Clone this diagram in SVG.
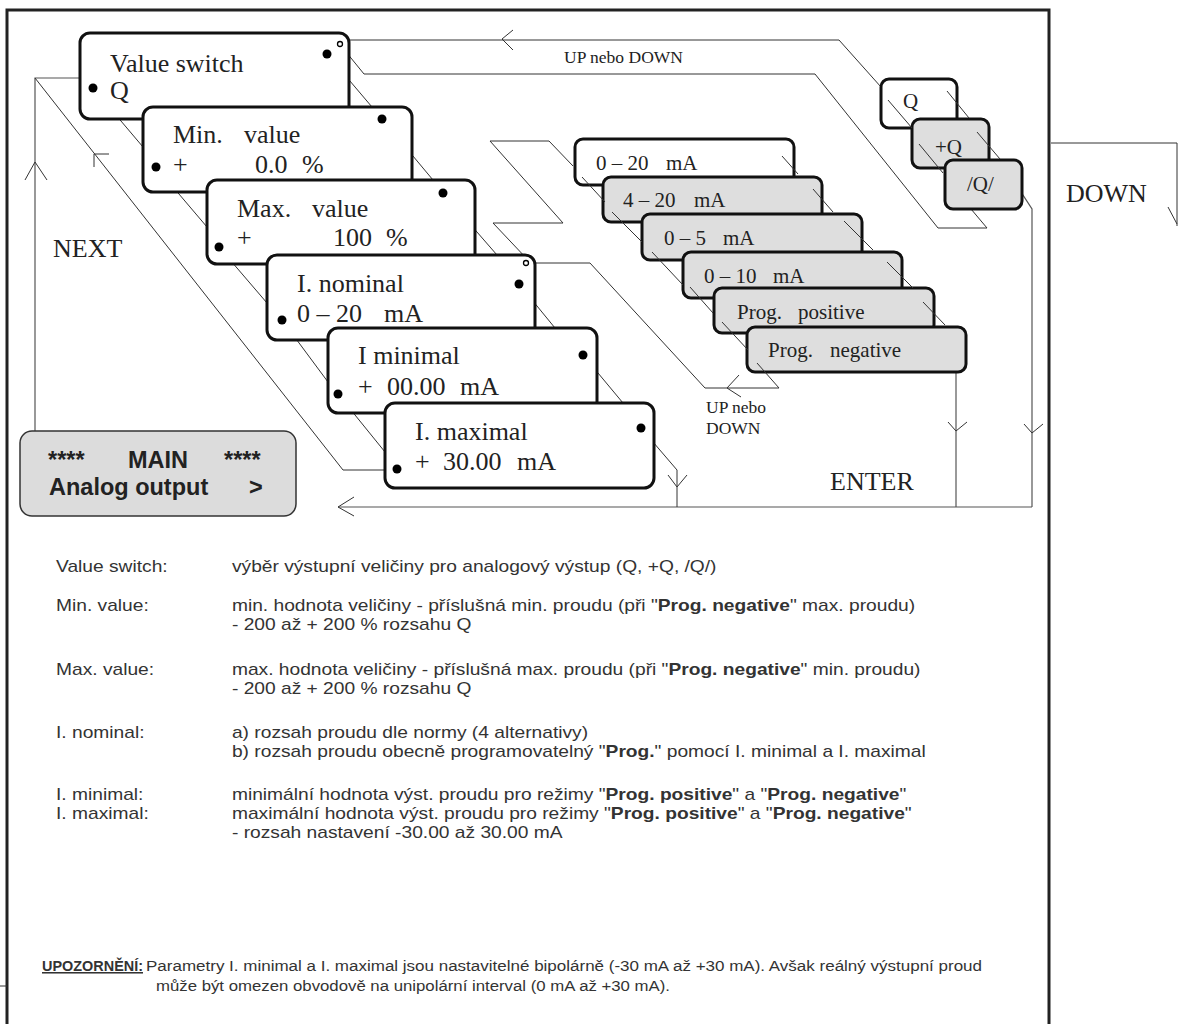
<svg xmlns="http://www.w3.org/2000/svg" width="1178" height="1024" viewBox="0 0 1178 1024">
<style>
.frame{fill:none;stroke:#222;stroke-width:3}
.box{fill:#fff;stroke:#111;stroke-width:3}
.gbox{fill:#dedede;stroke:#111;stroke-width:3}
.mainbox{fill:#dcdcdc;stroke:#333;stroke-width:1.5}
.ln{fill:none;stroke:#333;stroke-width:1}
.gl{fill:none;stroke:#555;stroke-width:1.2}
.dot{fill:#000}
.ring{fill:#fff;stroke:#000;stroke-width:1.3}
.s26{font-family:"Liberation Serif","Times New Roman",serif;font-size:26px;fill:#222}
.s21{font-family:"Liberation Serif","Times New Roman",serif;font-size:21px;fill:#222}
.s17{font-family:"Liberation Serif","Times New Roman",serif;font-size:17.5px;fill:#222}
.mb{font-family:"Liberation Sans",Arial,sans-serif;font-size:23.5px;font-weight:bold;fill:#222}
.d{font-family:"Liberation Sans",Arial,sans-serif;font-size:16px;fill:#333}
.n{font-family:"Liberation Sans",Arial,sans-serif;font-size:15.5px;fill:#333}
</style>
<rect width="1178" height="1024" fill="#fff"/>
<g id="frame">
<polyline class="frame" points="7,1024 7,10 1049,10 1049,1024"/>
<line class="ln" x1="0" y1="986" x2="7" y2="986"/>
</g>
<g id="connectors">
<polyline class="ln" points="349,40 839,40 881,87"/>
<polyline class="ln" points="513,30 502,39 513,50"/>
<polyline class="ln" points="342,47 364,74 815,74 938,228 987,228 955,190"/>
<polyline class="gl" points="80,78 35,78 35,431"/>
<polyline class="ln" points="25,180 35,162 47,180"/>
<polyline class="ln" points="35,78 343,470 397,470"/>
<polyline class="ln" points="109,154 94,154 94,167"/>
<polyline class="ln" points="528,260 493,223 563,223 490,141 549,141 573,166"/>
<polyline class="ln" points="779,388 705,388 590,263 535,263"/>
<polyline class="ln" points="739,375 727,388 741,397"/>
<polyline class="gl" points="956,347 956,507"/>
<polyline class="ln" points="948,422 956,431 967,422"/>
<polyline class="gl" points="1010,175 1032,209 1032,507"/>
<polyline class="ln" points="1024,424 1032,433 1043,424"/>
<polyline class="gl" points="338,507 1032,507"/>
<polyline class="ln" points="354,497 338,507 354,516"/>
<polyline class="ln" points="641,428 677,470 677,507"/>
<polyline class="ln" points="668,475 677,487 687,475"/>
<polyline class="ln" points="1051,143 1177,143 1177,226"/>
<line class="ln" x1="1168" y1="207" x2="1177" y2="224"/>
<line class="ln" x1="93" y1="88" x2="143" y2="147"/>
<line class="ln" x1="327" y1="54" x2="372" y2="107"/>
<line class="ln" x1="156" y1="167" x2="207" y2="227"/>
<line class="ln" x1="382" y1="119" x2="433" y2="180"/>
<line class="ln" x1="219" y1="247" x2="267" y2="303"/>
<line class="ln" x1="443" y1="193" x2="497" y2="255"/>
<line class="ln" x1="282" y1="320" x2="328" y2="382"/>
<line class="ln" x1="519" y1="284" x2="555" y2="328"/>
<line class="ln" x1="338" y1="394" x2="385" y2="452"/>
<line class="ln" x1="583" y1="355" x2="623" y2="403"/>
</g>
<g id="labels">
<text class="s17" x="564" y="63">UP nebo DOWN</text>
<text class="s26" x="53" y="257">NEXT</text>
<text class="s26" x="830" y="490">ENTER</text>
<text class="s26" x="1066" y="202">DOWN</text>
<text class="s17" x="706" y="413">UP nebo</text>
<text class="s17" x="706" y="434">DOWN</text>
</g>
<g id="node-value-switch">
<rect class="box" x="80" y="33" width="269" height="86" rx="10"/>
<text class="s26" x="110" y="72">Value switch</text>
<text class="s26" x="110" y="99">Q</text>
<circle class="dot" cx="93" cy="88" r="4.5"/>
<circle class="dot" cx="327" cy="54" r="4.5"/>
<circle class="ring" cx="340" cy="44" r="2.5"/>
</g>
<g id="node-min-value">
<rect class="box" x="143" y="107" width="269" height="85" rx="10"/>
<text class="s26" x="173" y="143">Min.</text>
<text class="s26" x="244" y="143">value</text>
<text class="s26" x="173" y="173">+</text>
<text class="s26" x="255" y="173">0.0</text>
<text class="s26" x="302" y="173">%</text>
<circle class="dot" cx="156" cy="167" r="4.5"/>
<circle class="dot" cx="382" cy="119" r="4.5"/>
</g>
<g id="node-max-value">
<rect class="box" x="207" y="180" width="268" height="84" rx="10"/>
<text class="s26" x="237" y="217">Max.</text>
<text class="s26" x="312" y="217">value</text>
<text class="s26" x="237" y="246">+</text>
<text class="s26" x="333" y="246">100</text>
<text class="s26" x="386" y="246">%</text>
<circle class="dot" cx="219" cy="247" r="4.5"/>
<circle class="dot" cx="443" cy="193" r="4.5"/>
</g>
<g id="node-i-nominal">
<rect class="box" x="267" y="255" width="268" height="85" rx="10"/>
<text class="s26" x="297" y="292">I. nominal</text>
<text class="s26" x="297" y="322">0 – 20</text>
<text class="s26" x="384" y="322">mA</text>
<circle class="dot" cx="282" cy="320" r="4.5"/>
<circle class="dot" cx="519" cy="284" r="4.5"/>
<circle class="ring" cx="526" cy="263" r="2.5"/>
</g>
<g id="node-i-minimal">
<rect class="box" x="328" y="328" width="269" height="85" rx="10"/>
<text class="s26" x="358" y="364">I minimal</text>
<text class="s26" x="358" y="395">+</text>
<text class="s26" x="387" y="395">00.00</text>
<text class="s26" x="460" y="395">mA</text>
<circle class="dot" cx="338" cy="394" r="4.5"/>
<circle class="dot" cx="583" cy="355" r="4.5"/>
</g>
<g id="node-i-maximal">
<rect class="box" x="385" y="403" width="269" height="85" rx="10"/>
<text class="s26" x="415" y="440">I. maximal</text>
<text class="s26" x="415" y="470">+</text>
<text class="s26" x="443" y="470">30.00</text>
<text class="s26" x="517" y="470">mA</text>
<circle class="dot" cx="397" cy="469" r="4.5"/>
<circle class="dot" cx="641" cy="428" r="4.5"/>
</g>
<g id="node-main">
<rect class="mainbox" x="20" y="431" width="276" height="85" rx="12"/>
<text class="mb" x="48" y="468">****</text>
<text class="mb" x="128" y="468">MAIN</text>
<text class="mb" x="224" y="468">****</text>
<text class="mb" x="49" y="495">Analog output</text>
<text class="mb" x="249" y="495">&gt;</text>
</g>
<g id="node-0-20">
<rect class="box" x="575" y="139" width="219" height="46" rx="8"/>
<text class="s21" x="596" y="170">0 – 20</text>
<text class="s21" x="666" y="170">mA</text>
</g>
<g id="node-4-20">
<rect class="gbox" x="603" y="177" width="219" height="45" rx="8"/>
<text class="s21" x="623" y="207">4 – 20</text>
<text class="s21" x="694" y="207">mA</text>
</g>
<g id="node-0-5">
<rect class="gbox" x="642" y="214" width="220" height="46" rx="8"/>
<text class="s21" x="664" y="245">0 – 5</text>
<text class="s21" x="723" y="245">mA</text>
</g>
<g id="node-0-10">
<rect class="gbox" x="683" y="252" width="219" height="46" rx="8"/>
<text class="s21" x="704" y="283">0 – 10</text>
<text class="s21" x="773" y="283">mA</text>
</g>
<g id="node-prog-positive">
<rect class="gbox" x="714" y="288" width="220" height="45" rx="8"/>
<text class="s21" x="737" y="319">Prog.</text>
<text class="s21" x="798" y="319">positive</text>
</g>
<g id="node-prog-negative">
<rect class="gbox" x="747" y="327" width="219" height="45" rx="8"/>
<text class="s21" x="768" y="357">Prog.</text>
<text class="s21" x="830" y="357">negative</text>
</g>
<g id="node-q">
<rect class="box" x="881" y="79" width="76" height="49" rx="8"/>
<text class="s21" x="903" y="108">Q</text>
</g>
<g id="node-plus-q">
<rect class="gbox" x="912" y="119" width="77" height="49" rx="8"/>
<text class="s21" x="935" y="154">+Q</text>
</g>
<g id="node-abs-q">
<rect class="gbox" x="945" y="160" width="77" height="49" rx="8"/>
<text class="s21" x="967" y="191">/Q/</text>
</g>
<g id="list-lines">
<line class="ln" x1="582" y1="177" x2="605" y2="202"/>
<line class="ln" x1="782" y1="156" x2="798" y2="174"/>
<line class="ln" x1="612" y1="212" x2="642" y2="242"/>
<line class="ln" x1="813" y1="189" x2="833" y2="212"/>
<line class="ln" x1="652" y1="252" x2="683" y2="285"/>
<line class="ln" x1="844" y1="221" x2="873" y2="250"/>
<line class="ln" x1="690" y1="287" x2="713" y2="313"/>
<line class="ln" x1="887" y1="262" x2="913" y2="288"/>
<line class="ln" x1="722" y1="322" x2="748" y2="350"/>
<line class="ln" x1="923" y1="302" x2="945" y2="325"/>
<line class="ln" x1="757" y1="363" x2="779" y2="388"/>
<line class="ln" x1="888" y1="100" x2="912" y2="128"/>
<line class="ln" x1="947" y1="91" x2="969" y2="118"/>
<line class="ln" x1="919" y1="144" x2="943" y2="173"/>
<line class="ln" x1="977" y1="132" x2="1000" y2="159"/>
</g>
<g id="description" transform="scale(1.2,1)">
<text class="d" x="46.7" y="572">Value switch:</text>
<text class="d" x="193.3" y="572">výběr výstupní veličiny pro analogový výstup (Q, +Q, /Q/)</text>
<text class="d" x="46.7" y="611">Min. value:</text>
<text class="d" x="193.3" y="611">min. hodnota veličiny - příslušná min. proudu (při "<tspan font-weight="bold">Prog. negative</tspan>" max. proudu)</text>
<text class="d" x="193.3" y="630">- 200 až + 200 % rozsahu Q</text>
<text class="d" x="46.7" y="675">Max. value:</text>
<text class="d" x="193.3" y="675">max. hodnota veličiny - příslušná max. proudu (při "<tspan font-weight="bold">Prog. negative</tspan>" min. proudu)</text>
<text class="d" x="193.3" y="694">- 200 až + 200 % rozsahu Q</text>
<text class="d" x="46.7" y="738">I. nominal:</text>
<text class="d" x="193.3" y="738">a) rozsah proudu dle normy (4 alternativy)</text>
<text class="d" x="193.3" y="757">b) rozsah proudu obecně programovatelný "<tspan font-weight="bold">Prog.</tspan>" pomocí I. minimal a I. maximal</text>
<text class="d" x="46.7" y="800">I. minimal:</text>
<text class="d" x="193.3" y="800">minimální hodnota výst. proudu pro režimy "<tspan font-weight="bold">Prog. positive</tspan>" a "<tspan font-weight="bold">Prog. negative</tspan>"</text>
<text class="d" x="46.7" y="819">I. maximal:</text>
<text class="d" x="193.3" y="819">maximální hodnota výst. proudu pro režimy "<tspan font-weight="bold">Prog. positive</tspan>" a "<tspan font-weight="bold">Prog. negative</tspan>"</text>
<text class="d" x="193.3" y="838">- rozsah nastavení -30.00 až 30.00 mA</text>
</g>
<g id="note">
<text class="n" x="42" y="971" font-weight="bold" text-decoration="underline" textLength="101" lengthAdjust="spacingAndGlyphs">UPOZORNĚNÍ:</text>
<text class="n" x="146" y="971" textLength="836" lengthAdjust="spacingAndGlyphs">Parametry I. minimal a I. maximal jsou nastavitelné bipolárně (-30 mA až +30 mA). Avšak reálný výstupní proud</text>
<text class="n" x="156" y="991" textLength="514" lengthAdjust="spacingAndGlyphs">může být omezen obvodově na unipolární interval (0 mA až +30 mA).</text>
</g>
</svg>
